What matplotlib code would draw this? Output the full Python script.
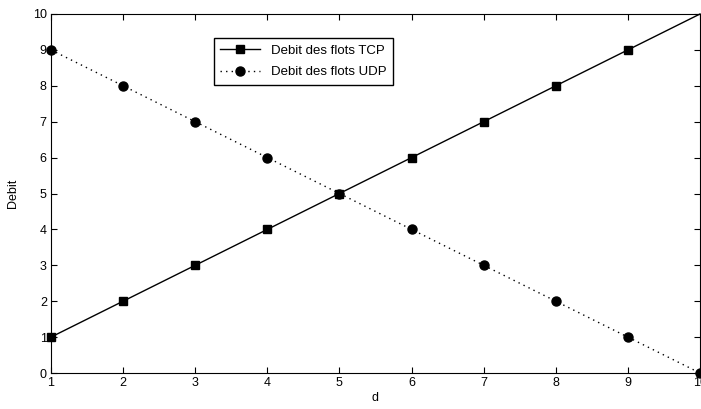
import matplotlib
matplotlib.use('Agg')
import matplotlib.pyplot as plt

d = [1, 2, 3, 4, 5, 6, 7, 8, 9, 10]
tcp = [1, 2, 3, 4, 5, 6, 7, 8, 9, 10]
udp = [9, 8, 7, 6, 5, 4, 3, 2, 1, 0]

plt.rcParams['font.family'] = ['Liberation Sans', 'DejaVu Sans']
plt.rcParams['font.size'] = 9

fig = plt.figure(figsize=(7.01, 4.09), dpi=100)
ax = fig.add_axes([51/701, 36/409, 649/701, 359/409])

ax.plot(d, tcp, 'k-', marker='s', markersize=5.5, linewidth=1,
        markevery=list(range(9)), label='Debit des flots TCP', clip_on=False)
ax.plot(d, udp, color='k', linestyle=(0, (1, 3)), marker='o', markersize=6.5,
        linewidth=1, label='Debit des flots UDP', clip_on=False)

ax.set_xlim(1, 10)
ax.set_ylim(0, 10)
ax.set_xticks(range(1, 11))
ax.set_yticks(range(0, 11))
ax.tick_params(direction='in', top=True, right=True, length=4, pad=3)
ax.set_xlabel('d', labelpad=2)
ax.set_ylabel('Debit', labelpad=10)

leg = ax.legend(loc='upper left', bbox_to_anchor=(0.251, 0.933), fancybox=False,
                edgecolor='black', framealpha=1, handlelength=3.0,
                borderpad=0.5, labelspacing=0.7, borderaxespad=0,
                prop={'size': 9.5})
leg.get_frame().set_linewidth(1)

fig.savefig('out.png', dpi=100)
